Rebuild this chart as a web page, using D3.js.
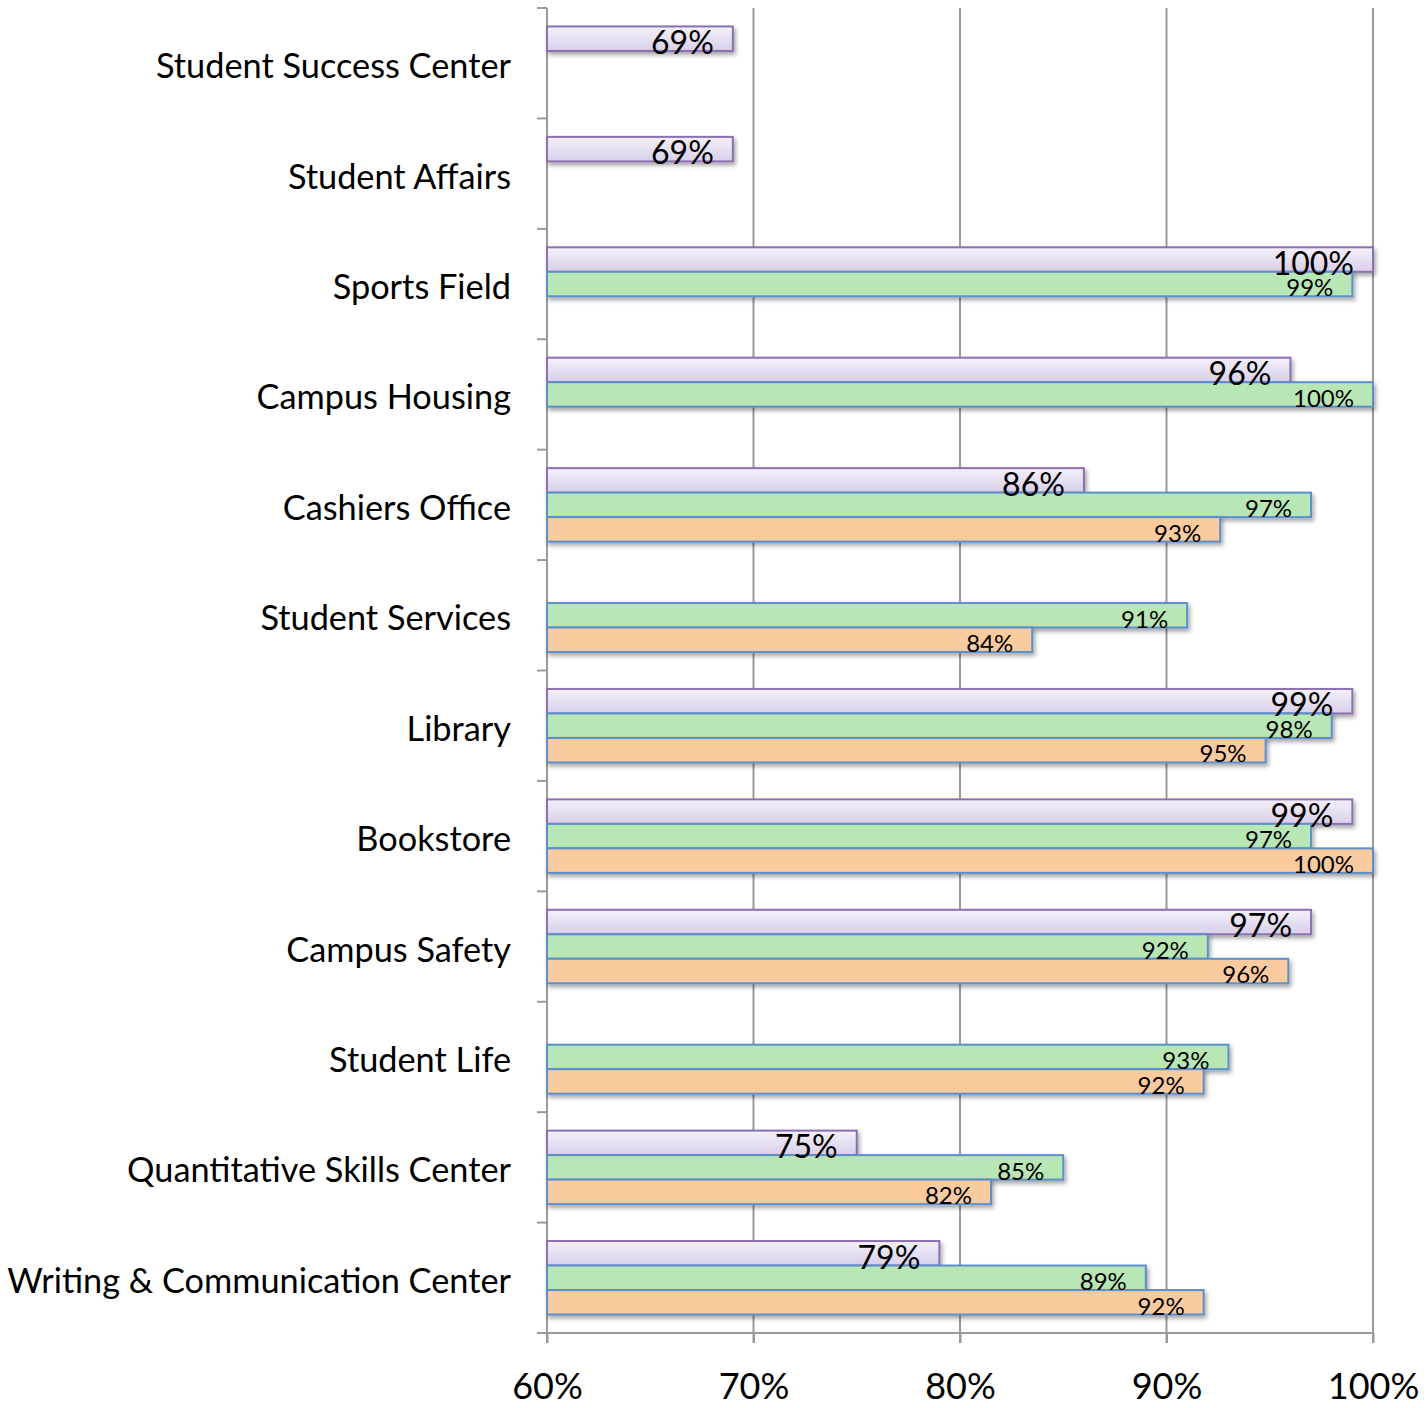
<!DOCTYPE html>
<html><head><meta charset="utf-8">
<script src="https://cdn.jsdelivr.net/npm/d3@7"></script>
<style>body{margin:0;background:#fff}svg{display:block}</style>
</head><body>
<svg id="c" width="1428" height="1408"></svg>
<script>
const categories = ["Student Success Center","Student Affairs","Sports Field","Campus Housing","Cashiers Office","Student Services","Library","Bookstore","Campus Safety","Student Life","Quantitative Skills Center","Writing & Communication Center"];
const purpleValues = [69, 69, 100, 96, 86, null, 99, 99, 97, null, 75, 79];
const greenValues  = [null, null, 99, 100, 97, 91, 98, 97, 92, 93, 85, 89];
const orangeValues = [null, null, null, null, 92.6, 83.5, 94.8, 100, 95.9, 91.8, 81.5, 91.8];
const xTicks = [60, 70, 80, 90, 100];

const font = "Lato, 'Open Sans', sans-serif";
const svg = d3.select("#c");
const x = d3.scaleLinear().domain([60, 100]).range([547, 1373]);
const y = d3.scaleBand().domain(categories).range([8, 1333]).padding(0);
const seriesNames = ["purple","green","orange"];
const inner = d3.scaleBand().domain(seriesNames).range([0, 73.5]);
const innerOffset = (y.bandwidth() - 73.5) / 2;

const defs = svg.append("defs");
const g1 = defs.append("linearGradient").attr("id","pg").attr("x1",0).attr("y1",0).attr("x2",0).attr("y2",1);
g1.append("stop").attr("offset","0%").attr("stop-color","#F4F0F9");
g1.append("stop").attr("offset","100%").attr("stop-color","#D9CFEA");
const f = defs.append("filter").attr("id","sh").attr("x","-5%").attr("y","-30%").attr("width","110%").attr("height","180%");
f.append("feDropShadow").attr("dx",2).attr("dy",3).attr("stdDeviation",2).attr("flood-color","#000").attr("flood-opacity",0.35);

// gridlines
svg.append("g").selectAll("line").data(xTicks.slice(1)).join("line")
  .attr("x1", d => x(d)).attr("x2", d => x(d)).attr("y1", 8).attr("y2", 1343)
  .attr("stroke", "#9a9a9a").attr("stroke-width", 2);

// axes
const yAxisG = svg.append("g");
yAxisG.append("line").attr("x1",547).attr("x2",547).attr("y1",8).attr("y2",1343).attr("stroke","#9a9a9a").attr("stroke-width",2);
const bounds = categories.map(c => y(c)).concat([y.range()[1]]);
yAxisG.selectAll("line.t").data(bounds).join("line").attr("class","t")
  .attr("x1",537).attr("x2",547).attr("y1",d=>d).attr("y2",d=>d).attr("stroke","#9a9a9a").attr("stroke-width",2);
svg.append("line").attr("x1",547).attr("x2",1373).attr("y1",1333).attr("y2",1333).attr("stroke","#9a9a9a").attr("stroke-width",2);

const xAxis = d3.axisBottom(x).tickValues(xTicks).tickFormat(d => d + "%").tickSize(10).tickPadding(30);
const xg = svg.append("g").attr("transform","translate(0,1333)").call(xAxis);
xg.select(".domain").remove();
xg.selectAll(".tick line").attr("stroke","#9a9a9a").attr("stroke-width",2);
xg.selectAll(".tick text").attr("font-family",font).attr("font-size",36).attr("fill","#000");

// category labels
svg.append("g").selectAll("text").data(categories).join("text")
  .attr("x", 511).attr("y", d => y(d) + y.bandwidth()/2 + 15)
  .attr("text-anchor","end").attr("font-family",font).attr("font-size",34.3).attr("fill","#000")
  .text(d => d);

const series = [
  {name:"purple", values: purpleValues, fill:"url(#pg)", stroke:"#8C6FB3", fs:32, dy:3},
  {name:"green", values: greenValues, fill:"#B8E6B5", stroke:"#5B8FCB", fs:24, dy:0},
  {name:"orange", values: orangeValues, fill:"#FACB9F", stroke:"#5B8FCB", fs:24, dy:0}
];
const bars = svg.append("g");
const labels = svg.append("g");
series.forEach(s => {
  const data = categories.map((c,i) => ({c, v: s.values[i]})).filter(d => d.v != null);
  bars.append("g").selectAll("rect").data(data).join("rect")
    .attr("x", x(60)).attr("y", d => y(d.c) + innerOffset + inner(s.name))
    .attr("width", d => x(d.v) - x(60)).attr("height", inner.bandwidth())
    .attr("fill", s.fill).attr("stroke", s.stroke).attr("stroke-width", 2)
    .attr("filter","url(#sh)");
  labels.append("g").selectAll("text").data(data).join("text")
    .attr("x", d => x(d.v) - 19)
    .attr("y", d => y(d.c) + innerOffset + inner(s.name) + inner.bandwidth() + s.dy)
    .attr("text-anchor","end").attr("font-family",font).attr("font-size",s.fs).attr("fill","#000")
    .text(d => Math.round(d.v) + "%");
});
</script>
</body></html>
